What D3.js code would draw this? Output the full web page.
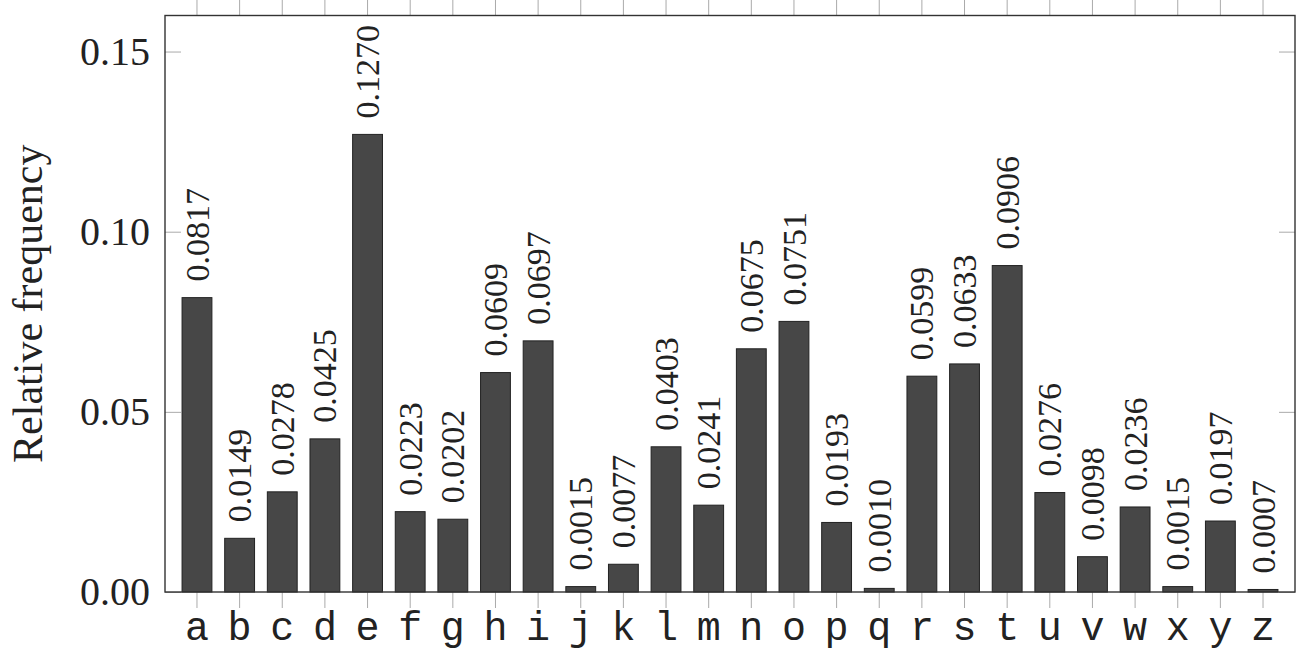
<!DOCTYPE html>
<html>
<head>
<meta charset="utf-8">
<script src="https://cdn.jsdelivr.net/npm/d3@7"></script>
<style>
  body { margin: 0; background: #fff; }
  svg { display: block; }
  .serif { font-family: "Liberation Serif", "Times New Roman", serif; }
  .mono { font-family: "Liberation Mono", "Courier New", monospace; }
</style>
</head>
<body>
<svg id="chart" width="1296" height="654"></svg>
<script>
// letter frequencies in English text
var letters = ["a","b","c","d","e","f","g","h","i","j","k","l","m",
               "n","o","p","q","r","s","t","u","v","w","x","y","z"];
var freqs = [0.0817, 0.0149, 0.0278, 0.0425, 0.1270, 0.0223, 0.0202, 0.0609, 0.0697,
             0.0015, 0.0077, 0.0403, 0.0241, 0.0675, 0.0751, 0.0193, 0.0010, 0.0599,
             0.0633, 0.0906, 0.0276, 0.0098, 0.0236, 0.0015, 0.0197, 0.0007];
var yTicks = [0, 0.05, 0.10, 0.15];

var data = letters.map(function(l, i) { return { key: l, value: freqs[i] }; });

var svg = d3.select("#chart");
var plotLeft = 165, plotRight = 1295, plotTop = 15.5, plotBottom = 592;

var x = d3.scaleBand()
  .domain(letters)
  .range([plotLeft, plotRight])
  .paddingInner(0.3)
  .paddingOuter(0.4);

var y = d3.scaleLinear()
  .domain([0, 0.16])
  .range([plotBottom, plotTop]);

var tickColor = "#aaa";

function styleTicks(g) {
  g.select(".domain").remove();
  g.attr("font-family", null);
  g.selectAll(".tick line").attr("stroke", tickColor).attr("stroke-width", 1);
}

// bottom axis with letters
svg.append("g")
  .attr("transform", "translate(0," + plotBottom + ")")
  .call(d3.axisBottom(x).tickSize(16))
  .call(styleTicks)
  .call(function(g) {
    g.selectAll(".tick text")
      .attr("class", "mono")
      .attr("y", 48)
      .attr("dy", null)
      .attr("font-size", 40)
      .attr("fill", "#222");
  });

// top ticks, outward, no labels
svg.append("g")
  .attr("transform", "translate(0," + plotTop + ")")
  .call(d3.axisTop(x).tickSize(16).tickFormat(""))
  .call(styleTicks);

// left axis, ticks inward
svg.append("g")
  .attr("transform", "translate(" + plotLeft + ",0)")
  .call(d3.axisLeft(y).tickValues(yTicks).tickSize(-16).tickPadding(15)
          .tickFormat(d3.format(".2f")))
  .call(styleTicks)
  .call(function(g) {
    g.selectAll(".tick text")
      .attr("class", "serif")
      .attr("font-size", 40)
      .attr("fill", "#222");
  });

// right ticks, inward
svg.append("g")
  .attr("transform", "translate(" + plotRight + ",0)")
  .call(d3.axisRight(y).tickValues(yTicks).tickSize(-16).tickFormat(""))
  .call(styleTicks);

// bars
svg.selectAll(".bar")
  .data(data)
  .enter().append("rect")
  .attr("class", "bar")
  .attr("x", function(d) { return x(d.key); })
  .attr("width", x.bandwidth())
  .attr("y", function(d) { return y(d.value); })
  .attr("height", function(d) { return y(0) - y(d.value); })
  .attr("fill", "#474747")
  .attr("stroke", "#222")
  .attr("stroke-width", 1);

// value labels above bars
svg.selectAll(".val")
  .data(data)
  .enter().append("text")
  .attr("class", "val serif")
  .attr("transform", function(d) {
    return "translate(" + (x(d.key) + x.bandwidth() / 2) + "," + (y(d.value) - 16) + ") rotate(-90)";
  })
  .attr("dy", "0.34em")
  .attr("text-anchor", "start")
  .attr("font-size", 34)
  .attr("fill", "#222")
  .text(function(d) { return d3.format(".4f")(d.value); });

// frame
svg.append("rect")
  .attr("x", plotLeft)
  .attr("y", plotTop)
  .attr("width", plotRight - plotLeft)
  .attr("height", plotBottom - plotTop)
  .attr("fill", "none")
  .attr("stroke", "#333")
  .attr("stroke-width", 1.4);

// y axis title
svg.append("text")
  .attr("class", "serif")
  .attr("transform", "translate(42," + ((plotTop + plotBottom) / 2) + ") rotate(-90)")
  .attr("text-anchor", "middle")
  .attr("font-size", 42)
  .attr("fill", "#222")
  .text("Relative frequency");
</script>
</body>
</html>
